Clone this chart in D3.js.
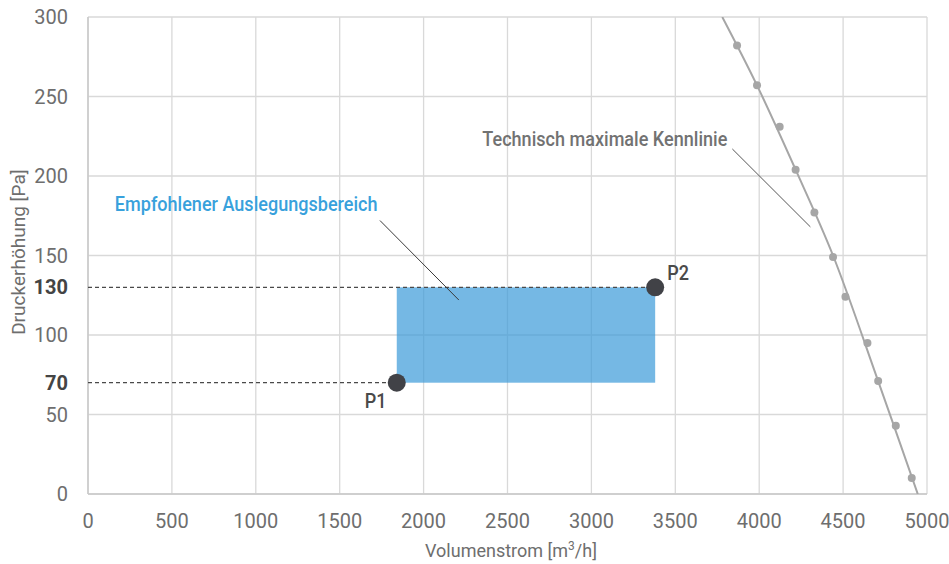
<!DOCTYPE html>
<html>
<head>
  <meta charset="utf-8">
  <title>Volumenstrom / Druckerhöhung</title>
  <style>
    body { margin: 0; background: #fff; }
    text { font-family: Roboto, "Noto Sans", sans-serif; }
  </style>
</head>
<body>
  <script src="https://d3js.org/d3.v7.min.js"></script>
  <script type="text/javascript">
    // data
    var xTicks = [0, 500, 1000, 1500, 2000, 2500, 3000, 3500, 4000, 4500, 5000];
    var yGrid = [0, 50, 100, 150, 200, 250, 300];
    var yTicks = [0, 50, 70, 100, 130, 150, 200, 250, 300];
    var yBold = [70, 130];

    // measured points of the "Technisch maximale Kennlinie"
    var curveX = [3868, 3987, 4122, 4217, 4329, 4440, 4514, 4645, 4709, 4814, 4909];
    var curveY = [282, 257, 231, 204, 177, 149, 124, 95, 71, 43, 10];
    // the drawn line through them
    var lineX = [3780, 3987, 4217, 4440, 4709, 4945];
    var lineY = [300, 257, 204, 150, 71, 0];

    // recommended operating range
    var pointNames = ["P1", "P2"];
    var pointX = [1840, 3380];
    var pointY = [70, 130];

    var margin = {top: 17, right: 22, bottom: 70, left: 88},
        width = 949 - margin.left - margin.right,
        height = 564 - margin.top - margin.bottom;

    var svg = d3.select("body").append("svg")
        .attr("width", 949)
        .attr("height", 564);

    var chart = svg.append("g")
        .attr("transform", "translate(" + margin.left + "," + margin.top + ")");

    var x = d3.scaleLinear().domain([0, 5000]).range([0, width]);
    var y = d3.scaleLinear().domain([0, 300]).range([height, 0]);

    // narrow label: the original uses a condensed face
    function narrow(sel, px, py) {
      return sel.attr("transform", "translate(" + px + "," + py + ") scale(0.86,1)");
    }

    // grid
    chart.selectAll(".vgrid").data(xTicks).enter().append("line")
        .attr("x1", function(d){ return x(d); })
        .attr("x2", function(d){ return x(d); })
        .attr("y1", 0).attr("y2", height)
        .attr("stroke", "#d9d9d9").attr("stroke-width", 1.3);

    chart.selectAll(".hgrid").data(yGrid).enter().append("line")
        .attr("x1", 0).attr("x2", width)
        .attr("y1", function(d){ return y(d); })
        .attr("y2", function(d){ return y(d); })
        .attr("stroke", "#d9d9d9").attr("stroke-width", 1.3);

    // axis lines
    chart.append("line").attr("x1", 0).attr("x2", 0).attr("y1", 0).attr("y2", height)
        .attr("stroke", "#c8c8c8").attr("stroke-width", 1.5);
    chart.append("line").attr("x1", 0).attr("x2", width).attr("y1", height).attr("y2", height)
        .attr("stroke", "#c8c8c8").attr("stroke-width", 1.5);

    // tick labels
    chart.selectAll(".xlab").data(xTicks).enter().append("text")
        .attr("x", function(d){ return x(d); })
        .attr("y", height + 34)
        .attr("text-anchor", "middle")
        .attr("font-size", 20)
        .attr("fill", "#6e6e6e")
        .text(function(d){ return d; });

    chart.selectAll(".ylab").data(yTicks).enter().append("text")
        .attr("x", -20)
        .attr("y", function(d){ return y(d) + 7; })
        .attr("text-anchor", "end")
        .attr("font-size", 20)
        .attr("font-weight", function(d){ return yBold.indexOf(d) >= 0 ? "bold" : "normal"; })
        .attr("fill", function(d){ return yBold.indexOf(d) >= 0 ? "#444" : "#6e6e6e"; })
        .text(function(d){ return d; });

    // axis titles
    var xt = svg.append("text")
        .attr("x", 511)
        .attr("y", 557)
        .attr("text-anchor", "middle")
        .attr("font-size", 18)
        .attr("fill", "#6e6e6e")
        .text("Volumenstrom [m");
    xt.append("tspan").attr("dy", -7).attr("font-size", 12).text("3");
    xt.append("tspan").attr("dy", 7).text("/h]");

    svg.append("text")
        .attr("transform", "translate(25,252) rotate(-90)")
        .attr("text-anchor", "middle")
        .attr("font-size", 19)
        .attr("fill", "#6e6e6e")
        .text("Druckerhöhung [Pa]");

    // recommended area
    chart.append("rect")
        .attr("x", x(pointX[0]))
        .attr("y", y(pointY[1]))
        .attr("width", x(pointX[1]) - x(pointX[0]))
        .attr("height", y(pointY[0]) - y(pointY[1]))
        .attr("fill", "#3b9ad9")
        .attr("fill-opacity", 0.7);

    // dashed guides to the y axis
    chart.selectAll(".guide").data(pointX).enter().append("line")
        .attr("x1", 0)
        .attr("x2", function(d){ return x(d); })
        .attr("y1", function(d, i){ return y(pointY[i]); })
        .attr("y2", function(d, i){ return y(pointY[i]); })
        .attr("stroke", "#4a4a4a")
        .attr("stroke-width", 1.3)
        .attr("stroke-dasharray", "4,3");

    chart.selectAll(".pt").data(pointX).enter().append("circle")
        .attr("cx", function(d){ return x(d); })
        .attr("cy", function(d, i){ return y(pointY[i]); })
        .attr("r", 9)
        .attr("fill", "#414247");

    chart.selectAll(".ptlab").data(pointNames).enter().append("text")
        .attr("transform", function(d, i){
          var px = x(pointX[i]) + (i === 0 ? -32 : 12),
              py = y(pointY[i]) + (i === 0 ? 25 : -7);
          return "translate(" + px + "," + py + ") scale(0.86,1)";
        })
        .attr("font-size", 21)
        .attr("font-weight", 500)
        .attr("fill", "#4a4a4a")
        .text(function(d){ return d; });

    // technical max characteristic
    chart.append("clipPath").attr("id", "plotclip")
        .append("rect").attr("width", width).attr("height", height);

    var lineData = lineX.map(function(d, i){ return [d, lineY[i]]; });
    chart.append("path")
        .datum(lineData)
        .attr("clip-path", "url(#plotclip)")
        .attr("fill", "none")
        .attr("stroke", "#a6a6a6")
        .attr("stroke-width", 2)
        .attr("d", d3.line()
            .x(function(d){ return x(d[0]); })
            .y(function(d){ return y(d[1]); })
            .curve(d3.curveCatmullRom));

    chart.selectAll(".cdot").data(curveX).enter().append("circle")
        .attr("cx", function(d){ return x(d); })
        .attr("cy", function(d, i){ return y(curveY[i]); })
        .attr("r", 4)
        .attr("fill", "#a6a6a6");

    // annotations
    narrow(chart.append("text"), x(160), y(178))
        .attr("font-size", 21)
        .attr("font-weight", 500)
        .attr("fill", "#38a1dc")
        .text("Empfohlener Auslegungsbereich");
    chart.append("line")
        .attr("x1", x(1740)).attr("y1", y(172))
        .attr("x2", x(2210)).attr("y2", y(122))
        .attr("stroke", "#3a3a3a").attr("stroke-width", 1);

    narrow(chart.append("text"), x(2350), y(219))
        .attr("font-size", 21)
        .attr("font-weight", 500)
        .attr("fill", "#727272")
        .text("Technisch maximale Kennlinie");
    chart.append("line")
        .attr("x1", x(3840)).attr("y1", y(217))
        .attr("x2", x(4305)).attr("y2", y(168))
        .attr("stroke", "#555").attr("stroke-width", 1);
  </script>
</body>
</html>
